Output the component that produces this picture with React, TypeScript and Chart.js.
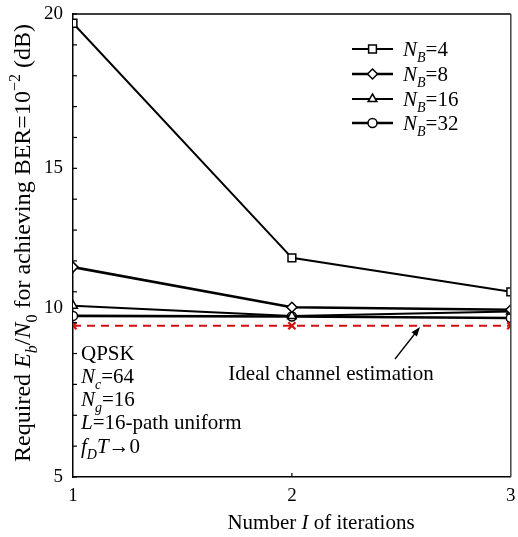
import React, { useEffect, useRef } from "react";
import { Chart, registerables } from "chart.js";

Chart.register(...registerables);

const iterations = [1, 2, 3];
const nb4 = [19.7, 12.1, 11.0];
const nb8 = [11.8, 10.5, 10.42];
const nb16 = [10.55, 10.22, 10.36];
const nb32 = [10.22, 10.2, 10.15];
const ideal = [9.9, 9.9, 9.9];
const yTickLabels = [5, 15, 20];
const shiftedYLabel = 10;
const legendLabels = ["4", "8", "16", "32"];

const FONT = '"Liberation Serif", "Times New Roman", serif';

type Seg = { t: string; i?: boolean; sub?: boolean; sup?: boolean };

function segFont(s: Seg, size: number) {
  const sz = s.sub || s.sup ? Math.round(size * 0.68) : size;
  return `${s.i ? "italic " : ""}${sz}px ${FONT}`;
}

function richWidth(ctx: CanvasRenderingContext2D, segs: Seg[], size: number) {
  let w = 0;
  for (const s of segs) {
    ctx.font = segFont(s, size);
    w += ctx.measureText(s.t).width;
  }
  return w;
}

function drawRich(ctx: CanvasRenderingContext2D, segs: Seg[], x: number, y: number, size: number, align: "left" | "center" = "left") {
  let cx = align === "center" ? x - richWidth(ctx, segs, size) / 2 : x;
  ctx.textBaseline = "alphabetic";
  ctx.textAlign = "left";
  for (const s of segs) {
    ctx.font = segFont(s, size);
    const dy = s.sub ? size * 0.28 : s.sup ? -size * 0.42 : 0;
    ctx.fillText(s.t, cx, y + dy);
    cx += ctx.measureText(s.t).width;
  }
}

const toXY = (arr: number[]) => arr.map((v, k) => ({ x: iterations[k], y: v }));

const seriesStyles = [
  { data: nb4, style: "rect", radius: 5.5, width: 2 },
  { data: nb8, style: "rectRot", radius: 5, width: 2.6 },
  { data: nb16, style: "triangle", radius: 5, width: 2 },
  { data: nb32, style: "circle", radius: 4.5, width: 2.6 },
];

const overlay = {
  id: "overlay",
  afterDraw(chart: any) {
    const ctx: CanvasRenderingContext2D = chart.ctx;
    const a = chart.chartArea;
    const ys = chart.scales.y;
    const xs = chart.scales.x;
    ctx.save();
    // frame
    ctx.strokeStyle = "#000";
    ctx.lineWidth = 1.5;
    ctx.beginPath();
    ctx.moveTo(a.left, a.top);
    ctx.lineTo(a.right, a.top);
    ctx.stroke();
    ctx.strokeStyle = "#444";
    ctx.beginPath();
    ctx.moveTo(a.right, a.top);
    ctx.lineTo(a.right, a.bottom);
    ctx.stroke();
    // inward ticks
    ctx.strokeStyle = "#000";
    ctx.lineWidth = 1.2;
    for (const t of ys.ticks) {
      const py = ys.getPixelForValue(t.value);
      ctx.beginPath();
      ctx.moveTo(a.left, py);
      ctx.lineTo(a.left + 4, py);
      ctx.stroke();
    }
    for (const t of xs.ticks) {
      if (t.value === xs.min || t.value === xs.max) continue;
      const px = xs.getPixelForValue(t.value);
      ctx.beginPath();
      ctx.moveTo(px, a.bottom);
      ctx.lineTo(px, a.bottom - 4);
      ctx.stroke();
    }
    ctx.fillStyle = "#000";
    // the "10" label sits a little above its tick in the reference
    ctx.font = `19px ${FONT}`;
    ctx.textAlign = "right";
    ctx.textBaseline = "middle";
    ctx.fillText(String(shiftedYLabel), a.left - 10, ys.getPixelForValue(shiftedYLabel) - 15);
    // y title
    ctx.save();
    ctx.translate(23, 243);
    ctx.rotate(-Math.PI / 2);
    drawRich(
      ctx,
      [
        { t: "Required " },
        { t: "E", i: true },
        { t: "b", i: true, sub: true },
        { t: "/" },
        { t: "N", i: true },
        { t: "0", sub: true },
        { t: " for achieving BER=10" },
        { t: "\u22122", sup: true },
        { t: " (dB)" },
      ],
      0,
      7,
      24,
      "center"
    );
    ctx.restore();
    // x title
    drawRich(ctx, [{ t: "Number " }, { t: "I", i: true }, { t: " of iterations" }], 321, 529, 21, "center");
    // legend
    const lx0 = 352, lx1 = 393, rowY = [49, 74, 99, 123];
    seriesStyles.forEach((s, k) => {
      const y = rowY[k];
      ctx.strokeStyle = "#000";
      ctx.lineWidth = s.width;
      ctx.beginPath();
      ctx.moveTo(lx0, y);
      ctx.lineTo(lx1, y);
      ctx.stroke();
      const m = (lx0 + lx1) / 2;
      ctx.fillStyle = "#fff";
      ctx.lineWidth = 1.5;
      ctx.beginPath();
      const r = s.radius;
      if (s.style === "rect") {
        const h = r * Math.SQRT1_2;
        ctx.rect(m - h, y - h, 2 * h, 2 * h);
      } else if (s.style === "rectRot") {
        ctx.moveTo(m, y - r);
        ctx.lineTo(m + r, y);
        ctx.lineTo(m, y + r);
        ctx.lineTo(m - r, y);
        ctx.closePath();
      } else if (s.style === "triangle") {
        ctx.moveTo(m, y - r);
        ctx.lineTo(m + r * 0.87, y + r * 0.5);
        ctx.lineTo(m - r * 0.87, y + r * 0.5);
        ctx.closePath();
      } else {
        ctx.arc(m, y, r, 0, Math.PI * 2);
      }
      ctx.fill();
      ctx.stroke();
      ctx.fillStyle = "#000";
      drawRich(ctx, [{ t: "N", i: true }, { t: "B", i: true, sub: true }, { t: "=" + legendLabels[k] }], 403, y + 7, 21);
    });
    // text block
    const tx = 81;
    drawRich(ctx, [{ t: "QPSK" }], tx, 360, 21);
    drawRich(ctx, [{ t: "N", i: true }, { t: "c", i: true, sub: true }, { t: "=64" }], tx, 383, 21);
    drawRich(ctx, [{ t: "N", i: true }, { t: "g", i: true, sub: true }, { t: "=16" }], tx, 406, 21);
    drawRich(ctx, [{ t: "L", i: true }, { t: "=16-path uniform" }], tx, 429, 21);
    drawRich(ctx, [{ t: "f", i: true }, { t: "D", i: true, sub: true }, { t: "T", i: true }, { t: "\u21920" }], tx, 453, 21);
    drawRich(ctx, [{ t: "Ideal channel estimation" }], 331, 380, 21, "center");
    // arrow
    const ax0 = 395, ay0 = 359, ax1 = 420, ay1 = 327;
    ctx.strokeStyle = "#000";
    ctx.lineWidth = 1.3;
    ctx.beginPath();
    ctx.moveTo(ax0, ay0);
    ctx.lineTo(ax1 - 3, ay1 + 4);
    ctx.stroke();
    const ang = Math.atan2(ay1 - ay0, ax1 - ax0);
    ctx.fillStyle = "#000";
    ctx.beginPath();
    ctx.moveTo(ax1, ay1);
    ctx.lineTo(ax1 - 10 * Math.cos(ang - 0.35), ay1 - 10 * Math.sin(ang - 0.35));
    ctx.lineTo(ax1 - 10 * Math.cos(ang + 0.35), ay1 - 10 * Math.sin(ang + 0.35));
    ctx.closePath();
    ctx.fill();
    ctx.restore();
  },
};

export default function App() {
  const ref = useRef<HTMLCanvasElement>(null);
  useEffect(() => {
    if (!ref.current) return;
    const datasets: any[] = [
      {
        data: toXY(ideal),
        borderColor: "#d01010",
        borderWidth: 2.2,
        borderDash: [8, 6],
        pointStyle: "crossRot",
        pointRadius: 5,
        pointBorderWidth: 2.2,
        pointBorderColor: "#d01010",
      },
      ...seriesStyles.map((s) => ({
        data: toXY(s.data),
        borderColor: "#000",
        borderWidth: s.width,
        pointStyle: s.style,
        pointRadius: s.radius,
        pointBackgroundColor: "#fff",
        pointBorderColor: "#000",
        pointBorderWidth: 1.5,
      })),
    ];
    const chart = new Chart(ref.current, {
      type: "line",
      data: { datasets },
      options: {
        animation: false,
        responsive: false,
        devicePixelRatio: 1,
        layout: { padding: { top: 14, right: 0, left: 0, bottom: 0 } },
        plugins: { legend: { display: false }, tooltip: { enabled: false } },
        scales: {
          x: {
            type: "linear",
            min: 1,
            max: 3,
            afterFit: (s: any) => {
              s.height = 60;
              s.paddingLeft = 0;
              s.paddingRight = 0;
            },
            grid: { display: false, drawTicks: false },
            border: { display: true, color: "#000", width: 1.5 },
            ticks: { stepSize: 1, padding: 8, color: "#000", font: { family: FONT, size: 19 } },
          },
          y: {
            min: 5,
            max: 20,
            afterFit: (s: any) => {
              s.width = 73;
              s.paddingTop = 0;
              s.paddingBottom = 0;
            },
            grid: { display: false, drawTicks: false },
            border: { display: true, color: "#000", width: 1.5 },
            ticks: {
              stepSize: 1,
              padding: 10,
              color: "#000",
              autoSkip: false,
              font: { family: FONT, size: 19 },
              callback: (v: any) => (yTickLabels.includes(Number(v)) ? String(v) : ""),
            },
          },
        },
      } as any,
      plugins: [overlay],
    });
    return () => chart.destroy();
  }, []);
  return (
    <div style={{ position: "absolute", left: 0, top: 0, width: 518, height: 537, background: "#fff" }}>
      <canvas ref={ref} width={518} height={537} />
    </div>
  );
}
